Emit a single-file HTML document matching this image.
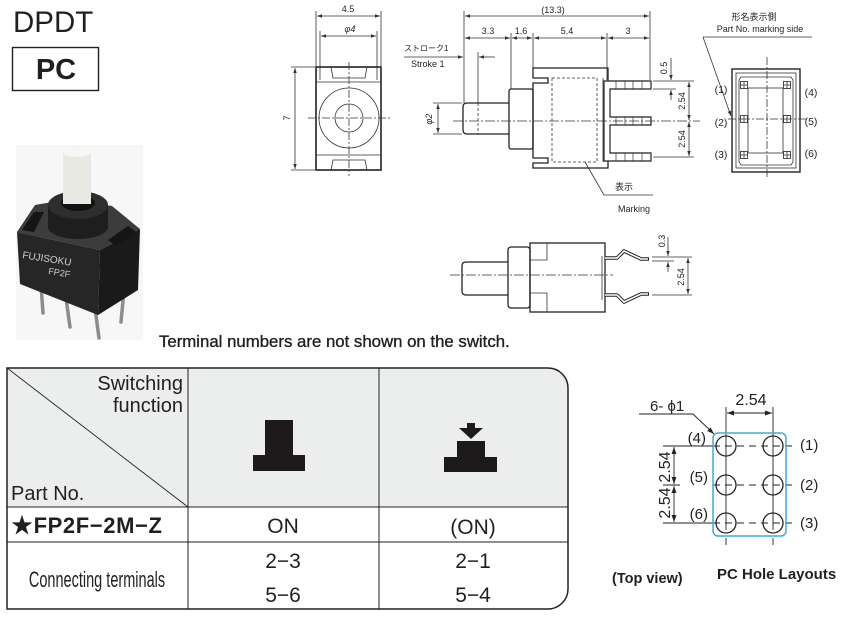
<!DOCTYPE html>
<html><head><meta charset="utf-8"><style>
html,body{margin:0;padding:0;background:#fff;}
svg{display:block;}
text{font-family:"Liberation Sans","Noto Sans CJK JP",sans-serif;fill:#231f20;}
</style></head><body>
<svg width="858" height="619" viewBox="0 0 858 619" xmlns="http://www.w3.org/2000/svg">
<defs>
<marker id="a" viewBox="0 0 10 10" refX="10" refY="5" markerUnits="userSpaceOnUse" markerWidth="6" markerHeight="5" orient="auto-start-reverse"><path d="M0,1.5 L10,5 L0,8.5z" fill="#333"/></marker>
<marker id="b" viewBox="0 0 10 10" refX="10" refY="5" markerUnits="userSpaceOnUse" markerWidth="8" markerHeight="7" orient="auto-start-reverse"><path d="M0,1.5 L10,5 L0,8.5z" fill="#222"/></marker>
</defs>

<!-- Title -->
<text x="13" y="32" font-size="29.5">DPDT</text>
<rect x="12.5" y="47.5" width="86" height="43" fill="none" stroke="#222" stroke-width="1.4"/>
<text x="56" y="79" font-size="29" font-weight="bold" text-anchor="middle">PC</text>

<!-- Photo -->
<rect x="16" y="145" width="127" height="195" fill="#f7f7f7"/>
<g stroke="#8c8c8c" stroke-width="3.5" stroke-linecap="round" fill="none">
<path d="M41,285 L43,313"/><path d="M66,298 L70,327"/><path d="M95,308 L99,338"/><path d="M124,290 L121,322"/>
</g>
<polygon points="17,232 35,205 70,199 112,206 140,229 100,250" fill="#3c3c3c"/>
<polygon points="17,232 100,250 98,315 20,284" fill="#262626"/>
<polygon points="100,250 140,229 138,290 98,315" fill="#1a1a1a"/>
<polygon points="22,230 34,212 44,212 34,232" fill="#151515"/>
<polygon points="108,240 128,226 136,232 116,246" fill="#151515"/>
<rect x="48" y="205" width="60" height="22" fill="#1e1e1e"/>
<ellipse cx="78" cy="227" rx="30" ry="12" fill="#1e1e1e"/>
<ellipse cx="78" cy="205" rx="30" ry="14" fill="#2e2e2e"/>
<ellipse cx="78" cy="203" rx="17" ry="8" fill="#111"/>
<rect x="63" y="152" width="28" height="52" fill="#e9e9e4"/>
<ellipse cx="77" cy="152" rx="14" ry="5" fill="#f6f6f3"/>
<text x="22" y="258" font-size="10" fill="#cfcfcf" style="fill:#cfcfcf" transform="rotate(9 22 258)">FUJISOKU</text>
<text x="48" y="274" font-size="9" style="fill:#cfcfcf" transform="rotate(9 48 274)">FP2F</text>

<text x="159" y="347" font-size="16.8" stroke="#231f20" stroke-width="0.35">Terminal numbers are not shown on the switch.</text>

<!-- Front view -->
<g stroke="#333" stroke-width="0.8" fill="none">
<line x1="316" y1="11" x2="316" y2="66"/><line x1="381" y1="11" x2="381" y2="66"/>
<line x1="317" y1="16" x2="380" y2="16" marker-start="url(#a)" marker-end="url(#a)"/>
<line x1="320" y1="31" x2="320" y2="80"/><line x1="377" y1="31" x2="377" y2="80"/>
<line x1="321" y1="36" x2="376" y2="36" marker-start="url(#a)" marker-end="url(#a)"/>
<line x1="291" y1="67" x2="315" y2="67"/><line x1="291" y1="170" x2="315" y2="170"/>
<line x1="295" y1="68" x2="295" y2="169" marker-start="url(#a)" marker-end="url(#a)"/>
<rect x="316" y="67" width="65" height="103" stroke="#222" stroke-width="1.6"/>
<line x1="316" y1="82" x2="381" y2="82"/><line x1="316" y1="155" x2="381" y2="155"/>
<polyline points="331,67 333,78 365,78 367,67"/>
<polyline points="331,170 333,160 365,160 367,170"/>
<circle cx="349" cy="118" r="30"/><circle cx="349" cy="118" r="14"/>
<line x1="349" y1="62" x2="349" y2="176" stroke-dasharray="8 2 2 2"/>
<line x1="308" y1="118" x2="390" y2="118" stroke-dasharray="8 2 2 2"/>
</g>
<g font-size="9" text-anchor="middle">
<text x="348" y="12">4.5</text>
<text x="350" y="32" font-style="italic">φ4</text>
<text x="0" y="0" transform="translate(290,118) rotate(-90)">7</text>
</g>

<!-- Side view top -->
<g stroke="#333" stroke-width="0.8" fill="none">
<line x1="464" y1="11" x2="464" y2="103"/><line x1="650" y1="11" x2="650" y2="80"/>
<line x1="465" y1="16" x2="649" y2="16" marker-start="url(#a)" marker-end="url(#a)"/>
<line x1="511" y1="33" x2="511" y2="89"/><line x1="533" y1="33" x2="533" y2="68"/><line x1="607" y1="33" x2="607" y2="80"/>
<line x1="465" y1="38" x2="510" y2="38" marker-start="url(#a)" marker-end="url(#a)"/>
<line x1="512" y1="38" x2="532" y2="38" marker-start="url(#a)" marker-end="url(#a)"/>
<line x1="534" y1="38" x2="606" y2="38" marker-start="url(#a)" marker-end="url(#a)"/>
<line x1="608" y1="38" x2="649" y2="38" marker-start="url(#a)" marker-end="url(#a)"/>
<line x1="404" y1="57" x2="463" y2="57" marker-end="url(#a)"/>
<line x1="495" y1="57" x2="479" y2="57" marker-end="url(#a)"/>
<line x1="478" y1="52" x2="478" y2="103"/>
<line x1="478" y1="103" x2="478" y2="134" stroke-dasharray="3 2"/>
<line x1="433" y1="103" x2="462" y2="103"/><line x1="433" y1="134" x2="462" y2="134"/>
<line x1="438" y1="104" x2="438" y2="133" marker-start="url(#a)" marker-end="url(#a)"/>
<path d="M509,103 H467 Q463,103 463,107 V130 Q463,134 467,134 H509" stroke="#222" stroke-width="1.3"/>
<rect x="509" y="89" width="24" height="60" rx="2" stroke="#222" stroke-width="1.3"/>
<path d="M533,68 H608 V168 H533 V163 H548 V158 H533 V83 H548 V78 H533 Z" stroke="#222" stroke-width="1.3"/>
<rect x="552" y="78" width="45" height="84" stroke-dasharray="3 2"/>
<line x1="603" y1="78" x2="603" y2="162"/>
<path d="M651,81 H604 V161 H651 V153 H610 V125 H651 V117 H610 V89 H651 Z" stroke="#222" stroke-width="1.2" fill="#fff"/>
<g stroke-width="0.7">
<line x1="616" y1="81" x2="616" y2="89"/><line x1="625" y1="81" x2="625" y2="89"/><line x1="633" y1="81" x2="633" y2="89"/><line x1="642" y1="81" x2="642" y2="89"/>
<line x1="616" y1="117" x2="616" y2="125"/><line x1="625" y1="117" x2="625" y2="125"/><line x1="633" y1="117" x2="633" y2="125"/><line x1="642" y1="117" x2="642" y2="125"/>
<line x1="616" y1="153" x2="616" y2="161"/><line x1="625" y1="153" x2="625" y2="161"/><line x1="633" y1="153" x2="633" y2="161"/><line x1="642" y1="153" x2="642" y2="161"/>
</g>
<line x1="653" y1="81" x2="694" y2="81"/><line x1="653" y1="89" x2="676" y2="89"/><line x1="653" y1="157" x2="694" y2="157"/>
<line x1="671" y1="58" x2="671" y2="80" marker-end="url(#a)"/>
<line x1="671" y1="100" x2="671" y2="90" marker-end="url(#a)"/>
<line x1="689" y1="82" x2="689" y2="120" marker-start="url(#a)" marker-end="url(#a)"/>
<line x1="689" y1="122" x2="689" y2="156" marker-start="url(#a)" marker-end="url(#a)"/>
<line x1="453" y1="121" x2="700" y2="121" stroke-dasharray="10 2 2 2"/>
<polyline points="585,162 604,195 653,195"/>
</g>
<g font-size="9" text-anchor="middle">
<text x="553" y="13">(13.3)</text>
<text x="488" y="34">3.3</text><text x="521" y="34">1.6</text><text x="567" y="34">5.4</text><text x="628" y="34">3</text>
<text x="0" y="0" transform="translate(432,119) rotate(-90)" font-style="italic">φ2</text>
<text x="0" y="0" transform="translate(667,68) rotate(-90)">0.5</text>
<text x="0" y="0" transform="translate(685,101) rotate(-90)">2.54</text>
<text x="0" y="0" transform="translate(685,139) rotate(-90)">2.54</text>
<text x="624" y="190">表示</text>
<text x="634" y="212">Marking</text>
</g>
<text x="404" y="51" font-size="8">ストローク1</text>
<text x="411" y="67" font-size="9">Stroke 1</text>

<!-- Right view -->
<g stroke="#333" stroke-width="0.8" fill="none">
<line x1="703" y1="37" x2="812" y2="37"/>
<line x1="703" y1="37" x2="731" y2="116" marker-end="url(#a)"/>
<rect x="732" y="69" width="68" height="103" stroke="#222" stroke-width="1.4"/>
<rect x="736" y="73" width="60" height="95"/>
<polygon points="741,77 791,77 793,80 793,162 791,165 741,165 739,162 739,80"/>
<rect x="748" y="88" width="35" height="65"/>
<line x1="767" y1="57" x2="767" y2="177" stroke-dasharray="8 2 2 2"/>
<line x1="728" y1="119" x2="806" y2="119" stroke-dasharray="8 2 2 2"/>
<g fill="#fff" stroke="#222">
<rect x="740.5" y="81.5" width="7" height="7"/><rect x="740.5" y="115.5" width="7" height="7"/><rect x="740.5" y="151.5" width="7" height="7"/>
<rect x="783.5" y="81.5" width="7" height="7"/><rect x="783.5" y="115.5" width="7" height="7"/><rect x="783.5" y="151.5" width="7" height="7"/>
</g>
<path d="M744,81 V89 M740,85 H748 M744,115 V123 M740,119 H748 M744,151 V159 M740,155 H748 M787,81 V89 M783,85 H791 M787,115 V123 M783,119 H791 M787,151 V159 M783,155 H791"/>
</g>
<g font-size="9" text-anchor="middle">
<text x="754" y="20">形名表示側</text>
<text x="760" y="32">Part No. marking side</text>
</g>
<g font-size="10.5" text-anchor="middle">
<text x="721" y="93">(1)</text><text x="721" y="126">(2)</text><text x="721" y="158">(3)</text>
<text x="811" y="96">(4)</text><text x="811" y="125">(5)</text><text x="811" y="157">(6)</text>
</g>

<!-- Bottom side view -->
<g stroke="#333" stroke-width="0.8" fill="none">
<path d="M508,262 H466 Q462,262 462,266 V291 Q462,295 466,295 H508" stroke="#222" stroke-width="1.3"/>
<rect x="508" y="247" width="22" height="61" rx="3" stroke="#222" stroke-width="1.3"/>
<rect x="530" y="243" width="75" height="69" stroke="#222" stroke-width="1.3"/>
<polyline points="530,260 547,260 547,243"/>
<polyline points="530,293 547,293 547,312"/>
<line x1="602" y1="256" x2="602" y2="300"/>
<g stroke="#222" stroke-width="3.6" stroke-linejoin="round"><polyline points="605,258 617,258 624,251 641,259 649,259"/><polyline points="605,295 617,295 624,302 641,294 649,294"/></g>
<g stroke="#fff" stroke-width="1.6" stroke-linejoin="round"><polyline points="605,258 617,258 624,251 641,259 648,259"/><polyline points="605,295 617,295 624,302 641,294 648,294"/></g>
<line x1="450" y1="275" x2="613" y2="275" stroke-dasharray="10 2 2 2"/>
<line x1="652" y1="257" x2="692" y2="257"/><line x1="652" y1="261" x2="674" y2="261"/><line x1="652" y1="295" x2="692" y2="295"/>
<line x1="668" y1="237" x2="668" y2="256" marker-end="url(#a)"/>
<line x1="668" y1="272" x2="668" y2="262" marker-end="url(#a)"/>
<line x1="688" y1="258" x2="688" y2="294" marker-start="url(#a)" marker-end="url(#a)"/>
</g>
<g font-size="9" text-anchor="middle">
<text x="0" y="0" transform="translate(665,241) rotate(-90)">0.3</text>
<text x="0" y="0" transform="translate(684,277) rotate(-90)">2.54</text>
</g>

<!-- Table -->
<path d="M7,368 H548 A20,20 0 0 1 568,388 V507 H7 Z" fill="#eceeed"/>
<g stroke="#222" fill="none">
<path d="M7,368 H548 A20,20 0 0 1 568,388 V589 A20,20 0 0 1 548,609 H7 Z" stroke-width="1.5"/>
<line x1="7" y1="507" x2="568" y2="507" stroke-width="1"/>
<line x1="7" y1="542" x2="568" y2="542" stroke-width="1"/>
<line x1="188" y1="368" x2="188" y2="609" stroke-width="1"/>
<line x1="379" y1="368" x2="379" y2="609" stroke-width="1"/>
<line x1="7" y1="368" x2="188" y2="507" stroke-width="0.9"/>
</g>
<text x="183" y="390" font-size="20" text-anchor="end">Switching</text>
<text x="183" y="412" font-size="20" text-anchor="end">function</text>
<text x="11" y="500" font-size="20">Part No.</text>
<g fill="#1e1a1b">
<rect x="265" y="420" width="28" height="51"/>
<rect x="253" y="455" width="52" height="16"/>
<rect x="467" y="423" width="8" height="6"/>
<polygon points="459,428 483,428 471,439"/>
<rect x="457" y="441" width="28" height="31"/>
<rect x="444" y="457" width="53" height="15"/>
</g>
<text x="11" y="533" font-size="22" font-weight="bold" letter-spacing="0.6">★FP2F−2M−Z</text>
<text x="283" y="533" font-size="21" text-anchor="middle">ON</text>
<text x="473" y="534" font-size="21" text-anchor="middle">(ON)</text>
<text x="0" y="0" font-size="22" text-anchor="middle" transform="translate(97,587) scale(0.66,1)">Connecting terminals</text>
<g font-size="21" text-anchor="middle">
<text x="283" y="568">2−3</text><text x="283" y="602">5−6</text>
<text x="473" y="568">2−1</text><text x="473" y="602">5−4</text>
</g>

<!-- PC hole layout -->
<g stroke="#222" fill="none" stroke-width="0.9">
<polyline points="639,414 693,414 714,434" marker-end="url(#b)"/>
<line x1="726" y1="407" x2="726" y2="530"/><line x1="773" y1="407" x2="773" y2="530"/>
<line x1="726" y1="538" x2="726" y2="545"/><line x1="773" y1="538" x2="773" y2="545"/>
<line x1="727" y1="413" x2="772" y2="413" marker-start="url(#b)" marker-end="url(#b)"/>
<line x1="663" y1="446" x2="713" y2="446"/><line x1="663" y1="523" x2="713" y2="523"/><line x1="663" y1="485" x2="680" y2="485"/>
<line x1="713" y1="446" x2="797" y2="446" stroke-dasharray="7 5"/>
<line x1="713" y1="485" x2="797" y2="485" stroke-dasharray="7 5"/>
<line x1="713" y1="523" x2="797" y2="523" stroke-dasharray="7 5"/>
<line x1="674" y1="447" x2="674" y2="484" marker-start="url(#b)" marker-end="url(#b)"/>
<line x1="674" y1="486" x2="674" y2="522" marker-start="url(#b)" marker-end="url(#b)"/>
<rect x="713" y="433" width="73" height="103" rx="5" stroke="#45a9dc" stroke-width="1.5"/>
<g stroke-width="1.3">
<circle cx="726" cy="446" r="10"/><circle cx="773" cy="446" r="10"/>
<circle cx="726" cy="485" r="10"/><circle cx="773" cy="485" r="10"/>
<circle cx="726" cy="523" r="10"/><circle cx="773" cy="523" r="10"/>
</g>
</g>
<text x="650" y="411" font-size="15">6- ϕ1</text>
<text x="751" y="405" font-size="16" text-anchor="middle">2.54</text>
<text x="0" y="0" font-size="16" text-anchor="middle" transform="translate(670,467) rotate(-90)">2.54</text>
<text x="0" y="0" font-size="16" text-anchor="middle" transform="translate(670,503) rotate(-90)">2.54</text>
<g font-size="15" text-anchor="end">
<text x="706" y="443">(4)</text><text x="708" y="482">(5)</text><text x="708" y="519">(6)</text>
</g>
<g font-size="15">
<text x="800" y="450">(1)</text><text x="800" y="490">(2)</text><text x="800" y="528">(3)</text>
</g>
<text x="612" y="583" font-size="14.5" font-weight="bold">(Top view)</text>
<text x="717" y="579" font-size="15" font-weight="bold">PC Hole Layouts</text>
</svg>
</body></html>
